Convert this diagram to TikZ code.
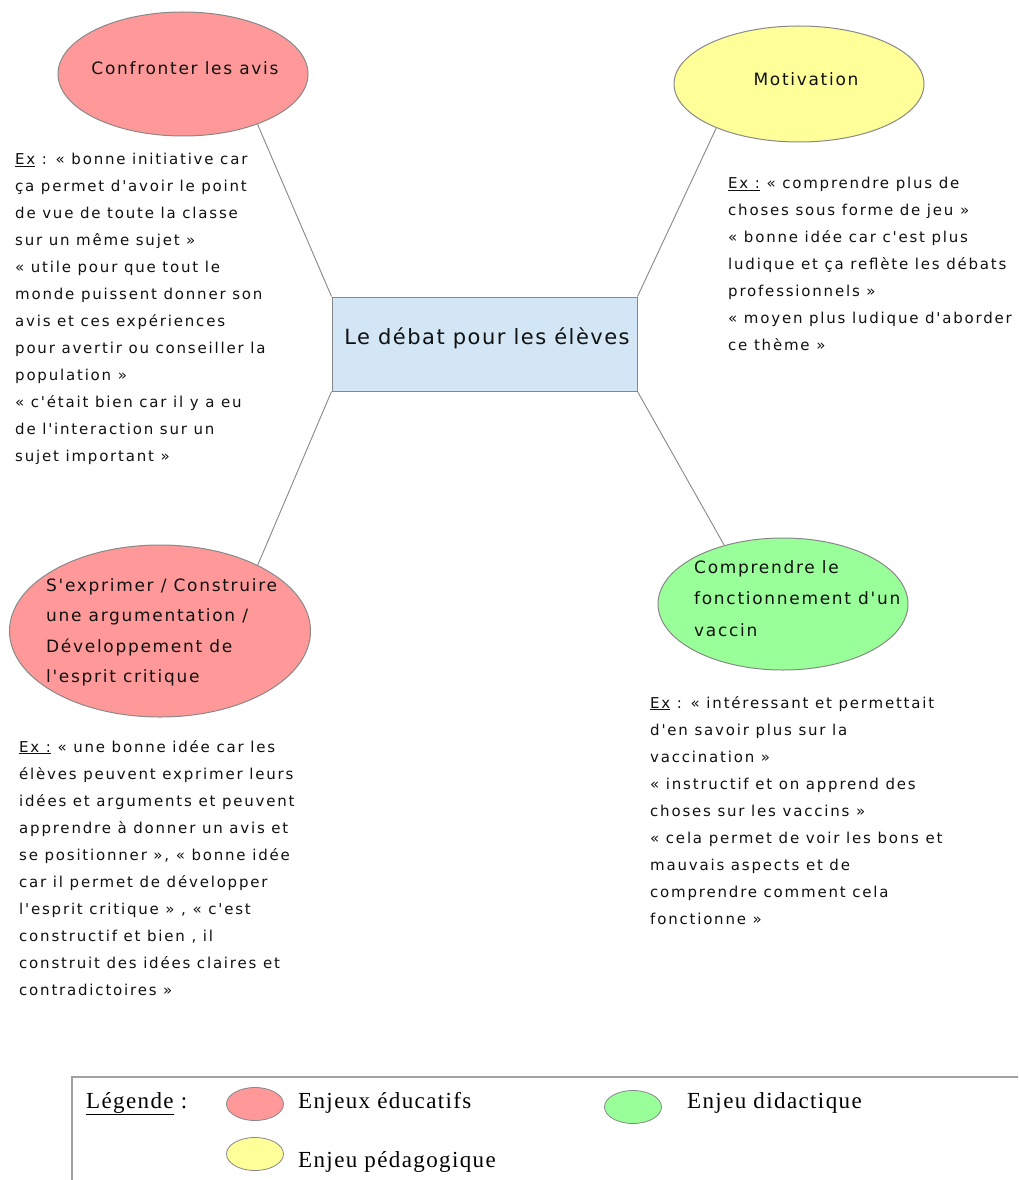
\documentclass[tikz,border=0pt]{standalone}
\usepackage{fontspec}
\setmainfont{DejaVu Sans}
\newfontfamily\comicish[LetterSpace=12]{DejaVu Sans}
\newfontfamily\bubblefont[LetterSpace=10]{DejaVu Sans}
\newfontfamily\centrefont[LetterSpace=7]{DejaVu Sans}
\newfontfamily\legfont[LetterSpace=6]{Liberation Serif}
\usetikzlibrary{shapes.geometric}
\definecolor{pinkfill}{HTML}{FF9999}
\definecolor{yellowfill}{HTML}{FFFF99}
\definecolor{greenfill}{HTML}{99FF99}
\definecolor{bluefill}{HTML}{D2E6F5}
\definecolor{edgegray}{HTML}{888888}
\definecolor{txt}{HTML}{111111}
\begin{document}
\begin{tikzpicture}[x=1pt,y=-1pt,
  bubble/.style={ellipse, draw=edgegray, line width=1pt, inner sep=0pt},
  bodytext/.style={align=left, inner sep=0pt, text=txt, font=\comicish\fontsize{15}{27}\selectfont},
  bubbletext/.style={align=left, inner sep=0pt, text=txt, font=\bubblefont\fontsize{17}{30.5}\selectfont},
  link/.style={draw=edgegray, line width=0.9pt},
  legtext/.style={inner sep=0pt, text=black, font=\legfont\fontsize{23}{26}\selectfont},
  legdot/.style={ellipse, draw=edgegray, line width=0.8pt, minimum width=57pt, minimum height=33pt, inner sep=0pt}
]
\useasboundingbox (0,0) rectangle (1018,1180);
\fill[white] (0,0) rectangle (1018,1180);

% central box
\node[draw=edgegray, fill=bluefill, line width=1pt, minimum width=305pt, minimum height=94pt, inner sep=0pt] (c) at (484.5,344) {};
\node[inner sep=0pt, text=txt, font=\centrefont\fontsize{21}{24}\selectfont] (ct) at (487,338) {Le débat pour les élèves};

% bubbles
\node[bubble, fill=pinkfill, minimum width=250pt, minimum height=124pt] (conf) at (183,74) {};
\node[bubbletext] (conft) at (185,68) {Confronter les avis};

\node[bubble, fill=yellowfill, minimum width=250pt, minimum height=116pt] (motiv) at (799,84) {};
\node[bubbletext] (motivt) at (806,79) {Motivation};

\node[bubble, fill=pinkfill, minimum width=301pt, minimum height=172pt] (sexp) at (160,631) {};
\node[bubbletext, anchor=north west] (sexpt) at (46,578) {S'exprimer / Construire\\une argumentation /\\Développement de\\l'esprit critique};

\node[bubble, fill=greenfill, minimum width=250pt, minimum height=132pt] (vacc) at (783,604) {};
\node[bubbletext, anchor=north west, font=\bubblefont\fontsize{17}{31.5}\selectfont] (vacct) at (694,560) {Comprendre le\\fonctionnement d'un\\vaccin};

% connectors
\draw[link] (c.north west) -- (conf.-34);
\draw[link] (c.north east) -- (motiv.-152);
\draw[link] (c.south west) -- (sexp.34);
\draw[link] (c.south east) -- (vacc.135.5);

% example texts
\node[bodytext, anchor=north west] (ex1) at (15,153) {\underline{Ex} : « bonne initiative car\\ça permet d'avoir le point\\de vue de toute la classe\\sur un même sujet  »\\« utile pour que tout le\\monde puissent donner son\\avis et ces expériences\\pour avertir ou conseiller la\\population  »\\«  c'était bien car il y a eu\\de l'interaction sur un\\sujet important  »};

\node[bodytext, anchor=north west] (ex2) at (728,177) {\underline{Ex :} « comprendre plus de\\choses sous forme de jeu  »\\«  bonne idée car c'est plus\\ludique et ça reflète les débats\\professionnels »\\« moyen plus ludique d'aborder\\ce thème  »};

\node[bodytext, anchor=north west] (ex3) at (19,740) {\underline{Ex :} « une bonne idée car les\\élèves peuvent exprimer leurs\\idées et arguments et peuvent\\apprendre à donner un avis et\\se positionner  », « bonne idée\\car il permet de développer\\l'esprit critique » , « c'est\\constructif et bien , il\\construit des idées claires et\\contradictoires »};

\node[bodytext, anchor=north west] (ex4) at (650,696) {\underline{Ex} : «  intéressant et permettait\\d'en savoir plus sur la\\vaccination »\\«  instructif et on apprend des\\choses sur les vaccins  »\\«  cela permet de voir les bons et\\mauvais aspects et  de\\comprendre comment cela\\fonctionne  »};

% legend
\coordinate (lgbl) at (72,1180);
\coordinate (lgtl) at (72,1077);
\coordinate (lgtr) at (1018,1077);
\draw[draw=edgegray!80, line width=1.8pt] (lgbl) -- (lgtl) -- (lgtr);
\node[legtext, anchor=base west] (lgt) at (86,1108) {\underline{Légende} :};
\node[legdot, fill=pinkfill] (lp) at (255,1104) {};
\node[legtext, anchor=base west] (lpt) at (298,1108) {Enjeux éducatifs};
\node[legdot, fill=greenfill] (lg) at (633,1107) {};
\node[legtext, anchor=base west] (lgt2) at (687,1108) {Enjeu didactique};
\node[legdot, fill=yellowfill] (ly) at (255,1154) {};
\node[legtext, anchor=base west] (lyt) at (298,1167) {Enjeu pédagogique};
\end{tikzpicture}
\end{document}
